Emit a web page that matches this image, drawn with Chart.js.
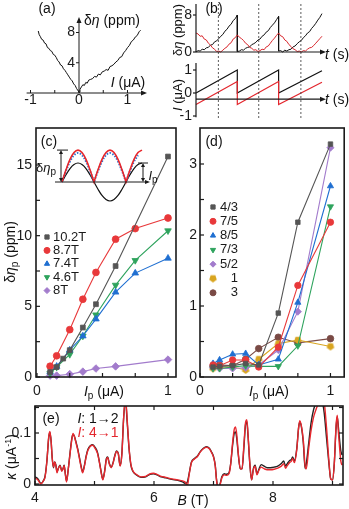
<!DOCTYPE html>
<html>
<head>
<meta charset="utf-8">
<script src="https://cdn.jsdelivr.net/npm/chart.js@4.4.1/dist/chart.umd.min.js"></script>
<style>
  body { margin: 0; background: #fff; }
  #fig { position: relative; width: 349px; height: 509px; overflow: hidden; background: #fff;
         font-family: "Liberation Sans", Arial, sans-serif; color: #111; }
  #fig canvas { position: absolute; left: 0; top: 0; }
  .lbl { position: absolute; white-space: nowrap; line-height: 1; font-size: 14px; transform: translate(-50%, -50%); }
  .sm { font-size: 13px; }
  .rot { transform: translate(-50%, -50%) rotate(-90deg); }
  .red { color: #e3262d; }
  sub { font-size: 10px; vertical-align: -3px; line-height: 0; }
  sup { font-size: 9px; vertical-align: 5px; line-height: 0; }
</style>
</head>
<body>
<div id="fig">
  <canvas id="panelA" width="349" height="509"></canvas>
  <canvas id="panelB" width="349" height="509"></canvas>
  <canvas id="panelC" width="349" height="509"></canvas>
  <canvas id="insetC" width="349" height="509"></canvas>
  <canvas id="panelD" width="349" height="509"></canvas>
  <canvas id="panelE" width="349" height="509"></canvas>

  <div class="lbl" style="left:47px;top:8px">(a)</div>
  <div class="lbl" style="left:112px;top:20px">δ<i>η</i> (ppm)</div>
  <div class="lbl" style="left:128px;top:82px"><i>I</i> (μA)</div>

  <div class="lbl" style="left:214px;top:8px">(b)</div>
  <div class="lbl rot sm" style="left:177px;top:30px">δ<i>η</i> (ppm)</div>
  <div class="lbl rot sm" style="left:177px;top:95px"><i>I</i> (μA)</div>
  <div class="lbl" style="left:337px;top:54px"><i>t</i> (s)</div>
  <div class="lbl" style="left:337px;top:99px"><i>t</i> (s)</div>

  <div class="lbl" style="left:49px;top:141px">(c)</div>
  <div class="lbl sm" style="left:46px;top:167px">δ<i>η</i><sub>p</sub></div>
  <div class="lbl sm" style="left:153px;top:175px"><i>I</i><sub>p</sub></div>
  <div class="lbl rot" style="left:10px;top:252px">δ<i>η</i><sub>p</sub> (ppm)</div>
  <div class="lbl" style="left:104px;top:391px"><i>I</i><sub>p</sub> (μA)</div>

  <div class="lbl" style="left:214px;top:141px">(d)</div>
  <div class="lbl" style="left:269px;top:391px"><i>I</i><sub>p</sub> (μA)</div>

  <div class="lbl" style="left:51px;top:418px">(e)</div>
  <div class="lbl" style="left:98px;top:418px"><i>I</i>: 1→2</div>
  <div class="lbl red" style="left:98px;top:432px"><i>I</i>: 4→1</div>
  <div class="lbl rot" style="left:11px;top:457px"><i>κ</i> (μA<sup>-1</sup>)</div>
  <div class="lbl" style="left:193px;top:500px"><i>B</i> (T)</div>
</div>

<script>
// ---- (a) δη against I
const aCurrent = [-0.84, -0.82, -0.80, -0.77, -0.74, -0.71, -0.68, -0.65, -0.62, -0.59,
  -0.56, -0.53, -0.50, -0.47, -0.44, -0.41, -0.38, -0.35, -0.32, -0.29,
  -0.26, -0.23, -0.20, -0.17, -0.14, -0.11, -0.08, -0.05, -0.02, 0,
  0.02, 0.05, 0.08, 0.11, 0.14, 0.17, 0.20, 0.24, 0.28, 0.32,
  0.36, 0.40, 0.44, 0.48, 0.52, 0.56, 0.60, 0.64, 0.68, 0.72,
  0.76, 0.80, 0.84, 0.88, 0.92, 0.96, 1.00, 1.04, 1.08, 1.12,
  1.16, 1.20, 1.24, 1.27];
const aSignal = [8.2, 7.7, 7.5, 7.1, 7.0, 6.6, 6.5, 6.0, 5.9, 5.6,
  5.5, 5.1, 5.0, 4.7, 4.3, 4.1, 3.7, 3.6, 3.2, 3.0,
  2.7, 2.4, 2.1, 1.8, 1.6, 1.2, 1.0, 0.6, 0.3, 0.1,
  0.5, 0.8, 1.1, 1.0, 1.4, 1.3, 1.7, 1.8, 1.9, 2.2,
  2.1, 2.5, 2.4, 2.8, 2.9, 3.1, 3.0, 3.5, 3.6, 3.8,
  4.1, 4.3, 4.7, 4.8, 5.3, 5.6, 6.0, 6.3, 6.8, 7.0,
  7.4, 7.6, 8.1, 8.3];
const aTicksX = [-1, -0.5, 0, 0.5, 1];
const aLabelsX = [-1, 0, 1];
const aTicksY = [4, 8];

// ---- (b) time traces
const bBlackTime = [0, 0.05, 0.1, 0.15, 0.2, 0.25, 0.3, 0.35, 0.4, 0.45, 0.5, 0.55, 0.6, 0.65, 0.7, 0.75, 0.8, 0.85, 0.9, 0.95, 1,
  1, 1.05, 1.1, 1.15, 1.2, 1.25, 1.3, 1.35, 1.4, 1.45, 1.5, 1.55, 1.6, 1.65, 1.7, 1.75, 1.8, 1.85, 1.9, 1.95, 2,
  2, 2.05, 2.1, 2.15, 2.2, 2.25, 2.3, 2.35, 2.4, 2.45, 2.5, 2.55, 2.6, 2.65, 2.7, 2.75, 2.8, 2.85, 2.9, 2.95, 3, 3.05];
const bBlackEta = [0, 0.3, 0.2, 0.6, 0.5, 0.9, 1.0, 1.5, 1.6, 2.2, 2.4, 2.9, 3.4, 3.8, 4.5, 4.9, 5.6, 6.0, 6.8, 7.2, 8.0,
  0.1, 0.2, 0.5, 0.4, 0.8, 1.0, 1.1, 1.6, 1.8, 2.1, 2.6, 2.8, 3.4, 3.7, 4.3, 4.6, 5.3, 5.8, 6.3, 7.0, 7.7,
  0.2, 0.3, 0.0, 0.4, 0.2, 0.5, 0.6, 1.1, 1.3, 1.8, 2.2, 2.5, 3.1, 3.5, 4.1, 4.4, 5.1, 5.6, 6.2, 6.9, 7.5, 8.3];
const bRedTime = [0, 0.05, 0.1, 0.15, 0.2, 0.25, 0.3, 0.35, 0.4, 0.45, 0.5, 0.55, 0.6, 0.65, 0.7, 0.75, 0.8, 0.85, 0.9, 0.95, 1,
  1.05, 1.1, 1.15, 1.2, 1.25, 1.3, 1.35, 1.4, 1.45, 1.5, 1.55, 1.6, 1.65, 1.7, 1.75, 1.8, 1.85, 1.9, 1.95, 2,
  2.05, 2.1, 2.15, 2.2, 2.25, 2.3, 2.35, 2.4, 2.45, 2.5, 2.55, 2.6, 2.65, 2.7, 2.75, 2.8, 2.85, 2.9, 2.95, 3, 3.05];
const bRedEta = [4.1, 3.9, 3.4, 3.5, 2.8, 2.6, 1.9, 1.5, 0.9, 0.6, 0.1, 0.2, 0.0, 0.4, 0.8, 1.1, 1.7, 2.0, 2.8, 3.1, 3.7,
  3.2, 2.9, 2.5, 1.9, 1.6, 1.0, 0.8, 0.4, 0.5, 0.1, 0.3, 0.6, 0.5, 1.1, 1.3, 1.9, 2.5, 3.0, 3.6, 4.1,
  3.5, 3.3, 2.6, 2.3, 1.6, 1.2, 0.7, 0.5, 0.1, 0.2, 0.0, 0.3, 0.2, 0.6, 0.9, 1.0, 1.4, 1.9, 2.4, 2.9, 3.4];
const bSawTime = [0, 1, 1, 2, 2, 3.05];
const bBlackI = [0, 1, 0, 1, 0, 0.97];
const bRedI = [-0.5, 0.5, -0.5, 0.5, -0.5, 0.47];
const bMarks = [0.54, 1.52, 2.54];
const bTicksEta = [0, 8];
const bTicksI = [-1, 0, 1];

// ---- (c) δη_p against I_p for several fields
const cCurrent = [0.1, 0.15, 0.2, 0.25, 0.35, 0.45, 0.6, 0.75, 1];
const cLabels = ['10.2T', '8.7T', '7.4T', '4.6T', '8T'];
const c102 = [0.35, 0.7, 1.3, 1.9, 3.5, 5.15, 7.85, null, 15.6];
const c87 = [0.76, 1.5, null, 3.35, 5.5, 7.4, 9.75, 10.5, 11.25];
const c74 = [0.35, 0.75, null, 1.9, 2.9, 4.1, 6.0, 7.35, 8.4];
const c46 = [0.25, 0.7, null, 1.6, 2.9, 4.4, 6.5, 8.25, 10.35];
const c8 = [0.1, 0.1, null, 0.2, 0.38, 0.6, 0.75, null, 1.23];
const cTicksY = [0, 5, 10, 15];

// (c) inset sketch
const insetPhase = [0, 0.125, 0.25, 0.375, 0.5, 0.625, 0.75, 0.875, 1, 1, 1.125, 1.25, 1.375, 1.5, 1.625, 1.75, 1.875, 2, 2, 2.125, 2.25, 2.375, 2.5];
const insetRed = [0, 0.64, 1.19, 1.55, 1.68, 1.55, 1.19, 0.64, 0, 0, 0.64, 1.19, 1.55, 1.68, 1.55, 1.19, 0.64, 0, 0, 0.64, 1.19, 1.55, 1.68];
const insetBlue = [0, 0.58, 1.08, 1.41, 1.53, 1.41, 1.08, 0.58, 0, 0, 0.58, 1.08, 1.41, 1.53, 1.41, 1.08, 0.58, 0, 0, 0.58, 1.08, 1.41, null];
const insetBlackPhase = [0, 0.125, 0.25, 0.375, 0.5, 0.625, 0.75, 0.875, 1, 1.125, 1.25, 1.375, 1.5, 1.625, 1.75, 1.875, 2, 2.125, 2.25, 2.375, 2.5];
const insetBlack = [0, 0.38, 0.71, 0.92, 1, 0.92, 0.71, 0.38, 0, -0.38, -0.71, -0.92, -1, -0.92, -0.71, -0.38, 0, 0.38, 0.71, 0.92, 1];

// ---- (d) δη_p against I_p for fractions
const dCurrent = [0.1, 0.15, 0.25, 0.35, 0.45, 0.6, 0.75, 1];
const dLabels = ['4/3', '7/5', '8/5', '7/3', '5/2', '1', '3'];
const d43 = [0.14, 0.15, 0.16, 0.19, 0.17, 0.9, 2.18, 3.28];
const d75 = [0.17, 0.16, 0.24, 0.24, 0.14, 0.42, 1.29, 2.18];
const d85 = [0.19, 0.24, 0.32, 0.33, 0.17, 0.25, 1.05, 2.69];
const d73 = [0.12, 0.12, 0.14, 0.16, 0.15, 0.15, 0.44, 2.4];
const d52 = [0.13, 0.12, 0.12, 0.13, 0.17, 0.38, 0.92, 3.23];
const d1 = [0.12, 0.14, 0.14, 0.1, 0.25, 0.47, 0.52, 0.43];
const d3 = [0.15, 0.17, 0.16, 0.25, 0.4, 0.56, 0.48, 0.54];
const dTicksY = [0, 1, 2, 3];

// ---- (e) κ against B
const eField = [4.00, 4.05, 4.10, 4.14, 4.17, 4.20, 4.23, 4.25, 4.27, 4.29,
  4.31, 4.33, 4.35, 4.37, 4.39, 4.42, 4.45, 4.47, 4.49, 4.51,
  4.53, 4.56, 4.59, 4.62, 4.64, 4.66, 4.69, 4.72, 4.75, 4.78,
  4.80, 4.83, 4.86, 4.89, 4.93, 4.97, 5.01, 5.05, 5.08, 5.11,
  5.14, 5.17, 5.20, 5.22, 5.25, 5.28, 5.31, 5.34, 5.37, 5.40,
  5.43, 5.46, 5.49, 5.52, 5.55, 5.58, 5.61, 5.64, 5.70, 5.78,
  5.86, 5.93, 5.99, 6.05, 6.12, 6.20, 6.30, 6.40, 6.48, 6.53,
  6.56, 6.59, 6.63, 6.68, 6.73, 6.78, 6.83, 6.88, 6.93, 6.97,
  7.00, 7.03, 7.05, 7.08, 7.11, 7.14, 7.18, 7.22, 7.26, 7.29,
  7.32, 7.35, 7.37, 7.39, 7.42, 7.45, 7.48, 7.51, 7.54, 7.56,
  7.58, 7.61, 7.64, 7.67, 7.70, 7.73, 7.76, 7.80, 7.85, 7.90,
  7.96, 8.02, 8.08, 8.14, 8.18, 8.21, 8.24, 8.28, 8.31, 8.33,
  8.36, 8.40, 8.43, 8.45, 8.48, 8.51, 8.54, 8.56, 8.60, 8.64,
  8.68, 8.72, 8.77, 8.82, 8.86, 8.90, 8.94, 8.97, 9.00, 9.03,
  9.06, 9.08, 9.10, 9.12, 9.14, 9.16];
const eBlack = [.014, .010, .001, .006, .016, .045, .090, .101, .085, .050,
  .032, .043, .038, .024, .030, .037, .026, .030, .037, .020,
  .006, .030, .062, .090, .097, .094, .082, .068, .050, .032,
  .024, .036, .055, .068, .075, .077, .072, .062, .045, .025,
  .009, .025, .050, .053, .040, .033, .041, .055, .065, .060,
  .036, .060, .130, .165, .120, .070, .038, .026, .018, .013,
  .014, .019, .020, .018, .014, .012, .009, .007, .004, .001,
  .004, .020, .043, .050, .055, .064, .070, .073, .070, .062,
  .054, .036, .010, -.010, .000, .014, .020, .019, .022, .041,
  .075, .100, .102, .090, .054, .030, .030, .070, .118, .122,
  .095, .040, .008, .030, .037, .020, .028, .038, .035, .032,
  .032, .033, .035, .040, .045, .035, .040, .046, .048, .053,
  .045, .070, .110, .122, .110, .080, .030, .040, .080, .120,
  .145, .158, .170, .165, .140, .090, .040, .010, .008, .040,
  .110, .132, .110, .085, .065, .057];
const eRed = [.012, .008, .000, .006, .014, .045, .092, .103, .085, .050,
  .033, .043, .036, .022, .030, .036, .025, .029, .036, .019,
  .004, .030, .060, .088, .099, .094, .080, .066, .048, .030,
  .022, .035, .053, .066, .074, .076, .070, .060, .044, .024,
  .008, .024, .048, .052, .039, .032, .040, .054, .064, .059,
  .035, .058, .130, .170, .125, .072, .040, .027, .019, .014,
  .015, .020, .021, .019, .015, .013, .010, .008, .006, .003,
  -.004, .018, .042, .049, .054, .063, .069, .072, .069, .061,
  .053, .035, .008, -.012, -.002, .012, .018, .017, .020, .040,
  .080, .108, .112, .098, .056, .030, .030, .075, .122, .126,
  .098, .042, .008, .028, .035, .018, .026, .033, .030, .028,
  .028, .029, .031, .035, .040, .031, .036, .042, .045, .050,
  .042, .068, .110, .124, .112, .085, .035, .030, .070, .105,
  .130, .145, .160, .168, .160, .110, .045, .010, .008, .040,
  .115, .135, .100, .070, .045, .037];
const eTicksX = [4, 5, 6, 7, 8, 9];
const eLabelsX = [4, 6, 8];
const eTicksY = [0, 0.05, 0.1, 0.15];
const eLabelsY = [0, 0.1];

// ---- drawing helpers
const fontFamily = '"Liberation Sans", Arial, sans-serif';
const ink = '#1a1a1a';

const pts = (xs, ys) => xs.map((x, i) => ({ x: x, y: ys[i] }));
// value at a pixel, from two reference positions
const lin = (p0, v0, p1, v1) => p => v0 + (p - p0) * (v1 - v0) / (p1 - p0);

function line(ctx, x1, y1, x2, y2) {
  ctx.beginPath(); ctx.moveTo(x1, y1); ctx.lineTo(x2, y2); ctx.stroke();
}
function head(ctx, x, y, dx, dy, len, half) {
  ctx.beginPath();
  ctx.moveTo(x, y);
  ctx.lineTo(x - dx * len - dy * half, y - dy * len + dx * half);
  ctx.lineTo(x - dx * len + dy * half, y - dy * len - dx * half);
  ctx.closePath(); ctx.fill();
}
function text(ctx, str, x, y, align, size, color) {
  ctx.save();
  ctx.font = (size || 14) + 'px ' + fontFamily;
  ctx.fillStyle = color || ink;
  ctx.textAlign = align || 'center';
  ctx.textBaseline = 'middle';
  ctx.fillText(str, x, y);
  ctx.restore();
}
function frame(chart, xTicks, yTicks, both) {
  const { ctx, chartArea: a } = chart;
  const sx = chart.scales.x, sy = chart.scales.y;
  ctx.save();
  ctx.strokeStyle = ink; ctx.lineWidth = 1.2;
  xTicks.forEach(v => {
    const x = sx.getPixelForValue(v);
    line(ctx, x, a.bottom, x, a.bottom - 4);
    if (both) line(ctx, x, a.top, x, a.top + 4);
  });
  yTicks.forEach(v => {
    const y = sy.getPixelForValue(v);
    line(ctx, a.left, y, a.left + 4, y);
    if (both) line(ctx, a.right, y, a.right - 4, y);
  });
  ctx.lineWidth = 1.6;
  ctx.strokeRect(a.left, a.top, a.right - a.left, a.bottom - a.top);
  ctx.restore();
}
function legend(chart, markerX, textX, align, y0, step) {
  const ctx = chart.ctx;
  chart.data.datasets.forEach((ds, i) => {
    const y = y0 + i * step;
    ctx.save();
    ctx.fillStyle = ds.backgroundColor; ctx.strokeStyle = ds.borderColor; ctx.lineWidth = 1;
    Chart.helpers.drawPoint(ctx, { pointStyle: ds.pointStyle, rotation: ds.pointRotation || 0, radius: 3, borderWidth: 0.5 }, markerX, y);
    ctx.restore();
    text(ctx, ds.label, textX, y, align, 13);
  });
}
function pentagon(color, r) {
  const c = document.createElement('canvas');
  c.width = c.height = 2 * r + 2;
  const g = c.getContext('2d');
  g.fillStyle = color;
  g.beginPath();
  for (let k = 0; k < 5; k++) {
    const ang = Math.PI / 2 + k * 2 * Math.PI / 5;
    g.lineTo(r + 1 + r * Math.cos(ang), r + 1 + r * Math.sin(ang));
  }
  g.closePath(); g.fill();
  return c;
}

function panel(id, box, xcal, ycal, datasets, draw, moreScales) {
  const [l, t, r, b] = box;
  const scales = {
    x: { type: 'linear', display: false, min: xcal(l), max: xcal(r) },
    y: { type: 'linear', display: false, min: ycal(b), max: ycal(t) }
  };
  Object.assign(scales, moreScales || {});
  return new Chart(document.getElementById(id), {
    type: 'line',
    data: { datasets: datasets },
    options: {
      responsive: false, animation: false, events: [],
      layout: { padding: { left: l, top: t, right: 349 - r, bottom: 509 - b } },
      plugins: { legend: { display: false }, tooltip: { enabled: false } },
      scales: scales
    },
    plugins: [{ id: id + 'Deco', afterDraw: draw }]
  });
}

function trace(data, color, width, yAxisID) {
  return { data: data, borderColor: color, backgroundColor: color, borderWidth: width,
           pointRadius: 0, tension: 0, yAxisID: yAxisID || 'y' };
}
function markers(label, xs, ys, color, style, rot, radius) {
  return { label: label, data: pts(xs, ys), borderColor: color, backgroundColor: color,
           borderWidth: 1.1, pointStyle: style, pointRotation: rot || 0, pointRadius: radius,
           pointBorderWidth: 0.8, spanGaps: true, tension: 0, clip: false };
}

// ---- (a)
panel('panelA', [20, 12, 152, 100], lin(79, 0, 127.5, 1), lin(93, 0, 32.5, 8),
  [trace(pts(aCurrent, aSignal), '#111', 1)],
  chart => {
    const { ctx } = chart, sx = chart.scales.x, sy = chart.scales.y;
    const ox = sx.getPixelForValue(0), oy = sy.getPixelForValue(0);
    ctx.save(); ctx.strokeStyle = ink; ctx.fillStyle = ink; ctx.lineWidth = 1;
    line(ctx, sx.getPixelForValue(-1.08), oy, 143, oy); head(ctx, 147, oy, 1, 0, 6, 2.5);
    line(ctx, ox, oy, ox, 21); head(ctx, ox, 17, 0, -1, 6, 2.5);
    aTicksX.forEach(v => { const x = sx.getPixelForValue(v); line(ctx, x, oy, x, oy - 3); });
    aTicksY.forEach(v => { const y = sy.getPixelForValue(v); line(ctx, ox, y, ox - 3, y); });
    ctx.restore();
    aLabelsX.forEach(v => text(ctx, String(v), sx.getPixelForValue(v), oy + 7, 'center', 14));
    aTicksY.forEach(v => text(ctx, String(v), ox - 4, sy.getPixelForValue(v), 'right', 14));
  });

// ---- (b)
panel('panelB', [190, 0, 336, 122], lin(196, 0, 237.3, 1), lin(52, 0, 15, 8),
  [
    trace(pts(bRedTime, bRedEta), '#d8262c', 1),
    trace(pts(bBlackTime, bBlackEta), '#111', 1),
    trace(pts(bSawTime, bRedI), '#e3262d', 1.2, 'yI'),
    trace(pts(bSawTime, bBlackI), '#111', 1.2, 'yI')
  ],
  chart => {
    const { ctx } = chart, sx = chart.scales.x, se = chart.scales.y, si = chart.scales.yI;
    const x0 = sx.getPixelForValue(0);
    ctx.save();
    ctx.strokeStyle = '#333'; ctx.lineWidth = 0.8; ctx.setLineDash([2, 2]);
    bMarks.forEach(t => { const x = sx.getPixelForValue(t); line(ctx, x, 4, x, 118); });
    ctx.setLineDash([]);
    ctx.strokeStyle = ink; ctx.fillStyle = ink; ctx.lineWidth = 1.2;
    const e0 = se.getPixelForValue(0);
    line(ctx, x0, e0, x0, 4);
    line(ctx, x0, e0, 321, e0); head(ctx, 326, e0, 1, 0, 6, 2.5);
    bTicksEta.forEach(v => { const y = se.getPixelForValue(v); line(ctx, x0, y, x0 - 3, y); });
    const iAxis = si.getPixelForValue(-0.27);
    line(ctx, x0, si.getPixelForValue(1.3), x0, si.getPixelForValue(-1.05));
    line(ctx, x0, iAxis, 321, iAxis); head(ctx, 326, iAxis, 1, 0, 6, 2.5);
    bTicksI.forEach(v => { const y = si.getPixelForValue(v); line(ctx, x0, y, x0 - 3, y); });
    ctx.restore();
    bTicksEta.forEach(v => text(ctx, String(v), x0 - 4, se.getPixelForValue(v), 'right', 14));
    bTicksI.forEach(v => text(ctx, String(v), x0 - 4, si.getPixelForValue(v), 'right', 14));
  },
  { yI: { type: 'linear', display: false, min: lin(93, 0, 70, 1)(122), max: lin(93, 0, 70, 1)(0) } });

// ---- (c)
panel('panelC', [36, 128, 176, 377], lin(37, 0, 168, 1), lin(377, 0, 165, 15),
  [
    markers(cLabels[0], cCurrent, c102, '#555555', 'rect', 0, 3.4),
    markers(cLabels[1], cCurrent, c87, '#e8383a', 'circle', 0, 3.4),
    markers(cLabels[2], cCurrent, c74, '#1f6fd1', 'triangle', 0, 3.8),
    markers(cLabels[3], cCurrent, c46, '#2ea35d', 'triangle', 180, 3.8),
    markers(cLabels[4], cCurrent, c8, '#a27bcc', 'rectRot', 0, 3.8)
  ],
  chart => {
    frame(chart, [0, 0.25, 0.5, 0.75, 1], [0, 2.5, 5, 7.5, 10, 12.5, 15], false);
    const ctx = chart.ctx, sx = chart.scales.x, sy = chart.scales.y;
    cTicksY.forEach(v => text(ctx, String(v), 32, sy.getPixelForValue(v), 'right', 14));
    text(ctx, '0', sx.getPixelForValue(0), 391, 'center', 14);
    text(ctx, '1', sx.getPixelForValue(1), 391, 'center', 14);
    legend(chart, 47, 53, 'left', 237, 13.4);
  });

panel('insetC', [53, 140, 152, 210], lin(62, 0, 94, 1), lin(182, 0, 163, 1),
  [
    { data: pts(insetPhase, insetRed), borderColor: '#e8262b', borderWidth: 1.6, pointRadius: 0, tension: 0.35, clip: false },
    { data: pts(insetPhase, insetBlue), borderColor: '#2f74d0', borderWidth: 2, borderDash: [1.5, 1.5], pointRadius: 0, tension: 0.35, clip: false },
    { data: pts(insetBlackPhase, insetBlack), borderColor: '#111', borderWidth: 1.2, pointRadius: 0, tension: 0.35, clip: false }
  ],
  chart => {
    const { ctx } = chart, sx = chart.scales.x, sy = chart.scales.y;
    const y0 = sy.getPixelForValue(0);
    ctx.save(); ctx.strokeStyle = ink; ctx.fillStyle = ink; ctx.lineWidth = 1;
    line(ctx, 55, y0, 146, y0); head(ctx, 150, y0, 1, 0, 5, 2);
    const yr = sy.getPixelForValue(1.68);
    line(ctx, 61, y0 - 3, 61, yr + 3); head(ctx, 61, yr, 0, -1, 4, 2); head(ctx, 61, y0, 0, 1, 4, 2);
    line(ctx, 57, yr, 68, yr);
    const xb = sx.getPixelForValue(2.5), yb = sy.getPixelForValue(1);
    line(ctx, 143, y0 - 3, 143, yb + 3); head(ctx, 143, yb, 0, -1, 4, 2); head(ctx, 143, y0, 0, 1, 4, 2);
    line(ctx, xb - 4, yb, 148, yb);
    ctx.restore();
  });

// ---- (d)
panel('panelD', [200, 128, 347, 377], lin(200, 0, 333, 1), lin(377, 0, 164, 3),
  [
    markers(dLabels[0], dCurrent, d43, '#555555', 'rect', 0, 3.2),
    markers(dLabels[1], dCurrent, d75, '#e8383a', 'circle', 0, 3.2),
    markers(dLabels[2], dCurrent, d85, '#1f6fd1', 'triangle', 0, 3.6),
    markers(dLabels[3], dCurrent, d73, '#2ea35d', 'triangle', 180, 3.6),
    markers(dLabels[4], dCurrent, d52, '#a27bcc', 'rectRot', 0, 3.6),
    markers(dLabels[5], dCurrent, d1, '#d9a520', pentagon('#d9a520', 4), 0, 4),
    markers(dLabels[6], dCurrent, d3, '#7a4a45', 'circle', 0, 3.3)
  ],
  chart => {
    frame(chart, [0, 0.25, 0.5, 0.75, 1], [0, 0.5, 1, 1.5, 2, 2.5, 3], false);
    const ctx = chart.ctx, sx = chart.scales.x, sy = chart.scales.y;
    dTicksY.forEach(v => text(ctx, String(v), 197, sy.getPixelForValue(v), 'right', 14));
    text(ctx, '0', sx.getPixelForValue(0), 391, 'center', 14);
    text(ctx, '1', sx.getPixelForValue(1), 391, 'center', 14);
    legend(chart, 213, 238, 'right', 207, 14.3);
  });

// ---- (e)
panel('panelE', [35, 406, 343, 485], lin(35, 4, 154, 6), lin(484, 0, 433, 0.1),
  [
    { data: pts(eField, eRed), borderColor: '#e8282e', borderWidth: 1.4, pointRadius: 0, cubicInterpolationMode: 'monotone' },
    { data: pts(eField, eBlack), borderColor: '#222', borderWidth: 1.4, pointRadius: 0, cubicInterpolationMode: 'monotone' }
  ],
  chart => {
    frame(chart, eTicksX, eTicksY, true);
    const ctx = chart.ctx, sx = chart.scales.x, sy = chart.scales.y;
    eLabelsY.forEach(v => text(ctx, String(v), 31, sy.getPixelForValue(v), 'right', 14));
    eLabelsX.forEach(v => text(ctx, String(v), sx.getPixelForValue(v), 498, 'center', 14));
  });
</script>
</body>
</html>
